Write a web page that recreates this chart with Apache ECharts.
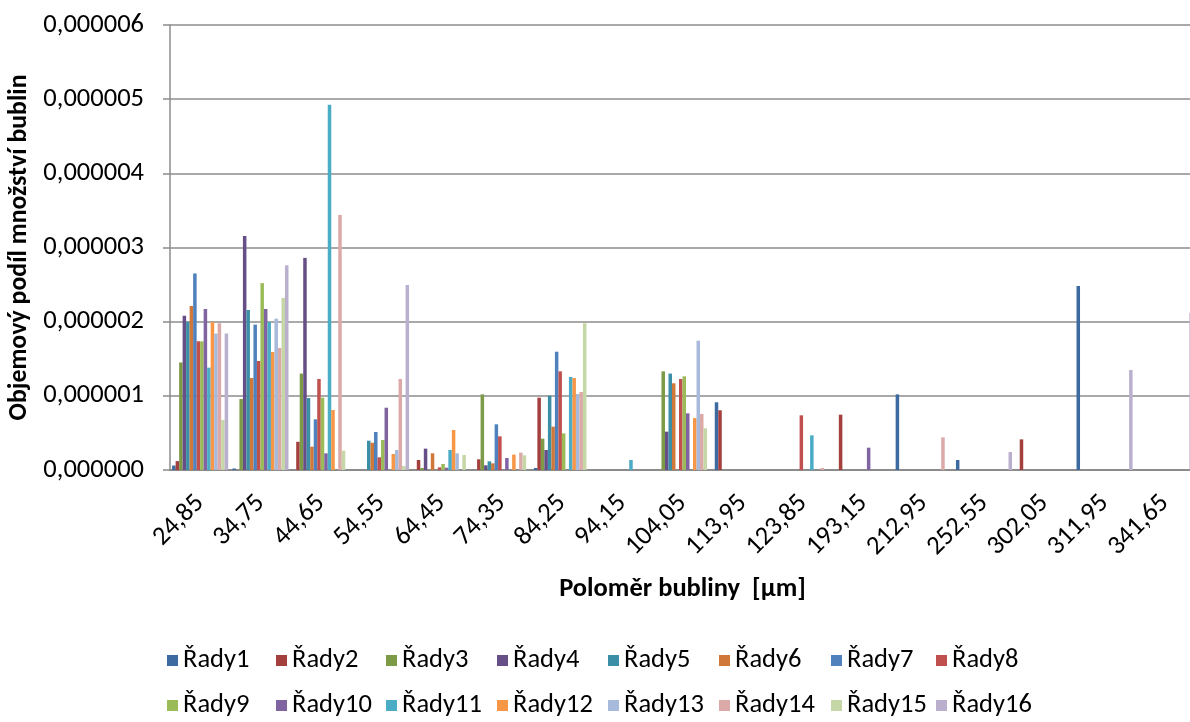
<!DOCTYPE html>
<html>
<head>
<meta charset="utf-8">
<script src="https://cdn.jsdelivr.net/npm/echarts@6/dist/echarts.min.js"></script>
<style>
  html, body { margin: 0; padding: 0; background: #fff; }
  #chart { width: 1190px; height: 722px; }
</style>
</head>
<body>
<div id="chart"></div>
<script>
// values are in units of 0.000001 (axis labels convert back)
var categories = ['24,85', '34,75', '44,65', '54,55', '64,45', '74,35', '84,25', '94,15', '104,05',
    '113,95', '123,85', '193,15', '212,95', '252,55', '302,05', '311,95', '341,65'];

var rady1  = [0.06, 0.02, 0, 0, 0, 0, 0.027, 0, 0, 0.913, 0, 0, 1.02, 0.135, 0, 2.48, 0];
var rady2  = [0.12, 0, 0.38, 0, 0.135, 0.144, 0.975, 0, 0, 0.805, 0, 0.746, 0, 0, 0.413, 0, 0];
var rady3  = [1.45, 0.957, 1.30, 0, 0.027, 1.02, 0.422, 0, 1.33, 0, 0, 0, 0, 0, 0, 0, 0];
var rady4  = [2.08, 3.155, 2.86, 0, 0.288, 0.063, 0.27, 0, 0.517, 0, 0, 0, 0, 0, 0, 0, 0];
var rady5  = [2.0, 2.157, 0.97, 0.395, 0, 0.117, 1.002, 0, 1.30, 0, 0, 0, 0, 0, 0, 0, 0];
var rady6  = [2.21, 1.24, 0.315, 0.368, 0.225, 0.09, 0.584, 0, 1.169, 0, 0, 0, 0, 0, 0, 0, 0];
var rady7  = [2.65, 1.96, 0.683, 0.512, 0, 0.616, 1.595, 0, 0, 0, 0, 0, 0, 0, 0, 0, 0];
var rady8  = [1.735, 1.47, 1.227, 0.171, 0.036, 0.454, 1.33, 0, 1.227, 0, 0.737, 0, 0, 0, 0, 0, 0];
var rady9  = [1.735, 2.52, 0.975, 0.404, 0.081, 0, 0.494, 0, 1.263, 0, 0, 0, 0, 0, 0, 0, 0];
var rady10 = [2.17, 2.17, 0.225, 0.84, 0.031, 0.162, 0, 0, 0.764, 0, 0, 0.301, 0, 0, 0, 0, 0];
var rady11 = [1.38, 1.995, 4.925, 0, 0.27, 0, 1.254, 0.135, 0, 0, 0.467, 0, 0, 0, 0, 0, 0];
var rady12 = [1.995, 1.59, 0.809, 0.216, 0.539, 0.207, 1.24, 0, 0.70, 0, 0, 0, 0, 0, 0, 0, 0];
var rady13 = [1.84, 2.04, 0, 0.27, 0.225, 0, 1.025, 0, 1.744, 0, 0, 0, 0, 0, 0, 0, 0];
var rady14 = [1.98, 1.645, 3.44, 1.227, 0, 0.234, 1.052, 0, 0.755, 0, 0.027, 0, 0.44, 0, 0, 0, 0];
var rady15 = [0.674, 2.32, 0.26, 0.054, 0.202, 0.198, 1.978, 0, 0.562, 0, 0, 0, 0, 0, 0, 0, 0];
var rady16 = [1.84, 2.76, 0, 2.494, 0, 0, 0, 0, 0, 0, 0, 0, 0, 0.243, 0, 1.348, 2.12];

var seriesNames = ['Řady1', 'Řady2', 'Řady3', 'Řady4', 'Řady5', 'Řady6', 'Řady7', 'Řady8',
    'Řady9', 'Řady10', 'Řady11', 'Řady12', 'Řady13', 'Řady14', 'Řady15', 'Řady16'];
var seriesValues = [rady1, rady2, rady3, rady4, rady5, rady6, rady7, rady8,
    rady9, rady10, rady11, rady12, rady13, rady14, rady15, rady16];
var colors = ['#3d6aa1', '#a33f3c', '#7d9a47', '#664e87', '#3a8ea6', '#d0783a', '#4f81bd', '#c0504d',
    '#9bbb59', '#8064a2', '#4bacc6', '#f79646', '#a8badb', '#dba9a8', '#c6d7a7', '#bab0ce'];

var font = 'Carlito, Calibri, Lato, sans-serif';
var fontSize = 26.5;

// legend columns (x of each marker), two rows of eight
var legendCols = [167, 276, 386, 497, 608, 719, 831, 936];
var legendRows = [647, 692];

var chart = echarts.init(document.getElementById('chart'));

var series = seriesNames.map(function (name, i) {
    return {
        name: name,
        type: 'bar',
        data: seriesValues[i],
        barGap: '0%',
        barCategoryGap: '7%',
        itemStyle: { color: colors[i] }
    };
});

var legends = seriesNames.map(function (name, i) {
    return {
        data: [name],
        left: legendCols[i % 8],
        top: legendRows[Math.floor(i / 8)],
        icon: 'rect',
        itemWidth: 11,
        itemHeight: 11,
        padding: 0,
        textStyle: { fontFamily: font, fontSize: fontSize, color: '#000' }
    };
});

chart.setOption({
    animation: false,
    color: colors,
    textStyle: { fontFamily: font },
    grid: {
        left: 170,
        right: -5,
        top: 25,
        bottom: 252,
        containLabel: false,
        outerBoundsMode: 'none'
    },
    legend: legends,
    xAxis: {
        type: 'category',
        data: categories,
        name: 'Poloměr bubliny  [µm]',
        nameLocation: 'middle',
        nameGap: 106,
        nameTextStyle: { fontFamily: font, fontSize: fontSize, fontWeight: 'bold', color: '#000' },
        axisLine: { lineStyle: { color: '#8c8c8c', width: 2 } },
        axisTick: { show: false },
        axisLabel: {
            interval: 0,
            rotate: 45,
            margin: 29,
            fontFamily: font,
            fontSize: fontSize,
            color: '#000'
        }
    },
    yAxis: {
        type: 'value',
        min: 0,
        max: 6,
        interval: 1,
        name: 'Objemový podíl množství bublin',
        nameLocation: 'middle',
        nameRotate: 90,
        nameGap: 136,
        nameTextStyle: { fontFamily: font, fontSize: 25.8, fontWeight: 'bold', color: '#000' },
        axisLine: { show: true, lineStyle: { color: '#8c8c8c', width: 1.5 } },
        axisTick: { show: true, length: 7, lineStyle: { color: '#8c8c8c', width: 1.5 } },
        splitLine: { lineStyle: { color: '#8c8c8c', width: 1.5 } },
        axisLabel: {
            margin: 26,
            fontFamily: font,
            fontSize: fontSize,
            color: '#000',
            formatter: function (v) {
                return (v / 1e6).toFixed(6).replace('.', ',');
            }
        }
    },
    series: series
});
</script>
</body>
</html>
